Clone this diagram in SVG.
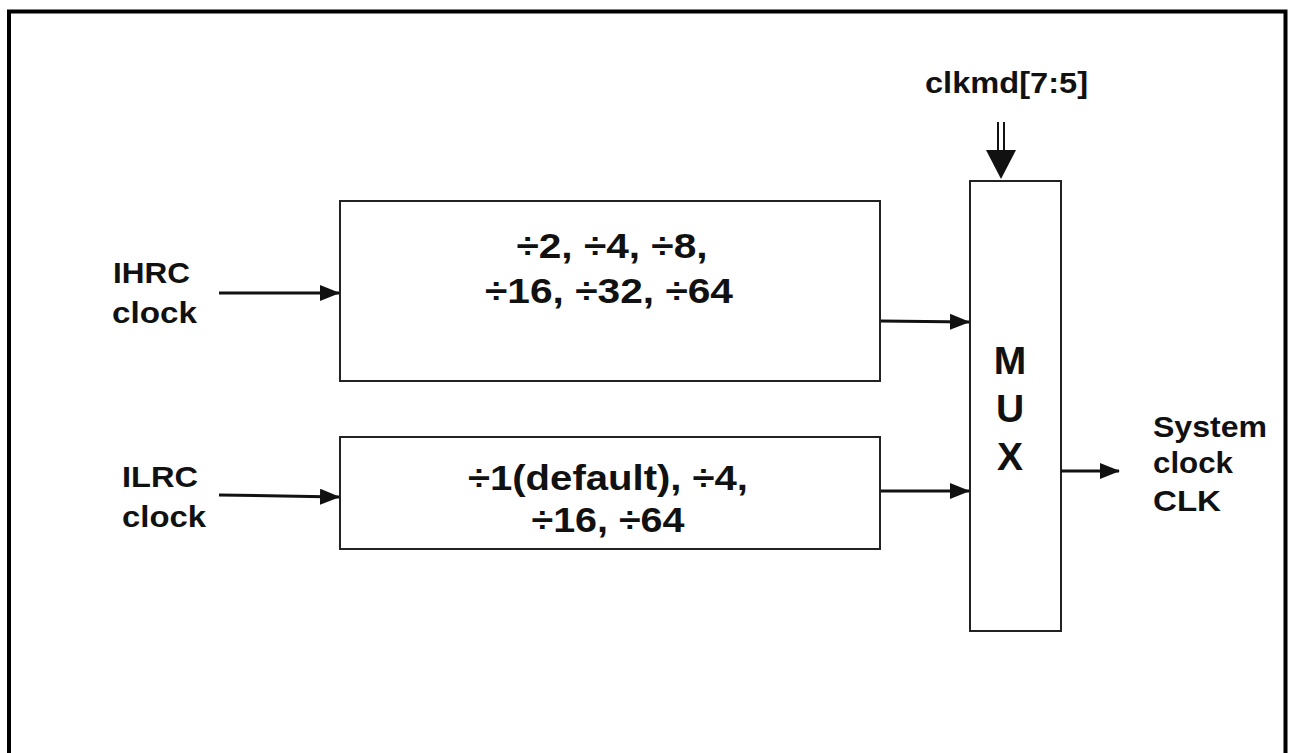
<svg xmlns="http://www.w3.org/2000/svg" width="1290" height="753" viewBox="0 0 1290 753">
<style>
text{font-family:"Liberation Sans",Arial,sans-serif;font-weight:bold;fill:#111}
.lbl{font-size:30px}
.div{font-size:35px;text-anchor:middle}
.mux{font-size:39px;text-anchor:middle}
.box{fill:#fff;stroke:#222;stroke-width:2}
.wire{stroke:#111;stroke-width:3;fill:none}
</style>
<defs>
<marker id="ah" markerWidth="20" markerHeight="16" refX="19" refY="8" orient="auto" markerUnits="userSpaceOnUse">
<path d="M0,0 L20,8 L0,16 Z" fill="#111"/>
</marker>
</defs>
<rect width="1290" height="753" fill="#fff"/>
<path id="frame" d="M9,760 L9,11.5 L1285.5,11.5 L1285.5,760" fill="none" stroke="#000" stroke-width="4"/>
<g id="div-high">
<rect class="box" x="340" y="201" width="540" height="180"/>
<text class="div" x="612" y="258" textLength="191" lengthAdjust="spacingAndGlyphs">÷2, ÷4, ÷8,</text>
<text class="div" x="609" y="303" textLength="248" lengthAdjust="spacingAndGlyphs">÷16, ÷32, ÷64</text>
</g>
<g id="div-low">
<rect class="box" x="340" y="437" width="540" height="112"/>
<text class="div" x="608" y="490" textLength="280" lengthAdjust="spacingAndGlyphs">÷1(default), ÷4,</text>
<text class="div" x="608" y="532" textLength="153" lengthAdjust="spacingAndGlyphs">÷16, ÷64</text>
</g>
<g id="mux">
<rect class="box" x="970" y="181" width="91" height="450"/>
<text class="mux" x="1010" y="374">M</text>
<text class="mux" x="1010" y="422">U</text>
<text class="mux" x="1010" y="470">X</text>
</g>
<g id="ihrc">
<text class="lbl" x="113" y="283" textLength="77" lengthAdjust="spacingAndGlyphs">IHRC</text>
<text class="lbl" x="112" y="323" textLength="85" lengthAdjust="spacingAndGlyphs">clock</text>
</g>
<g id="ilrc">
<text class="lbl" x="122" y="487" textLength="76" lengthAdjust="spacingAndGlyphs">ILRC</text>
<text class="lbl" x="122" y="527" textLength="84" lengthAdjust="spacingAndGlyphs">clock</text>
</g>
<g id="sysclk">
<text class="lbl" x="1153" y="437" textLength="114" lengthAdjust="spacingAndGlyphs">System</text>
<text class="lbl" x="1153" y="473" textLength="80" lengthAdjust="spacingAndGlyphs">clock</text>
<text class="lbl" x="1153" y="511" textLength="68" lengthAdjust="spacingAndGlyphs">CLK</text>
</g>
<g id="clkmd">
<text x="925" y="93" style="font-size:29px" textLength="163" lengthAdjust="spacingAndGlyphs">clkmd[7:5]</text>
</g>
<g id="connectors">
<line class="wire" x1="219" y1="293" x2="339" y2="293" marker-end="url(#ah)"/>
<line class="wire" x1="219" y1="495" x2="339" y2="497" marker-end="url(#ah)"/>
<line class="wire" x1="881" y1="321" x2="969" y2="322" marker-end="url(#ah)"/>
<line class="wire" x1="881" y1="491" x2="969" y2="491" marker-end="url(#ah)"/>
<line class="wire" x1="1061" y1="471" x2="1119" y2="471" marker-end="url(#ah)"/>
<line stroke="#111" stroke-width="2" x1="998" y1="122" x2="998" y2="155"/>
<line stroke="#111" stroke-width="2" x1="1004" y1="122" x2="1004" y2="155"/>
<path d="M986,150 L1016,150 L1001,179 Z" fill="#111"/>
</g>
</svg>
